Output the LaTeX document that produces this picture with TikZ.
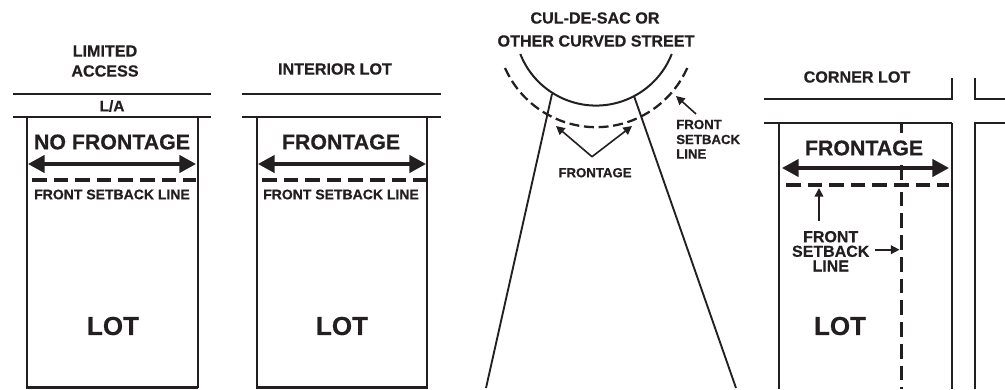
\documentclass[tikz,border=0pt]{standalone}
\usepackage{fontspec}
\setmainfont{Liberation Sans}[BoldFeatures={FakeBold=0.5}]
\usetikzlibrary{arrows.meta}
\definecolor{ink}{HTML}{231F20}
\tikzset{
  x=0.75pt,y=-0.75pt,
  big/.style={font=\fontsize{16pt}{18pt}\selectfont\bfseries,text=ink,inner sep=0pt},
  lotlabel/.style={font=\fontsize{19.5pt}{22pt}\selectfont\bfseries,text=ink,inner sep=0pt},
  title/.style={font=\fontsize{12.1pt}{14pt}\selectfont\bfseries,text=ink,inner sep=0pt},
  lalabel/.style={font=\fontsize{11.6pt}{14pt}\selectfont\bfseries,text=ink,inner sep=0pt},
  small/.style={font=\fontsize{10.5pt}{12pt}\selectfont\bfseries,text=ink,inner sep=0pt},
  tiny/.style={font=\fontsize{9.9pt}{11pt}\selectfont\bfseries,text=ink,inner sep=0pt,align=center},
  sidelabel/.style={font=\fontsize{12pt}{13pt}\selectfont\bfseries,text=ink,inner sep=0pt},
  road/.style={draw=ink,line width=1.5pt,line cap=butt},
  lotline/.style={draw=ink,line width=1.4pt},
  setback/.style={draw=ink,line width=2.3pt,dash pattern=on 11pt off 5.2pt},
  setbackthin/.style={draw=ink,line width=1.7pt,dash pattern=on 7.5pt off 3.5pt},
  sidedash/.style={draw=ink,line width=1.9pt},
  frontarrow/.style={draw=ink,line width=2.5pt,{Triangle[length=12.5pt,width=13pt,fill=ink]}-{Triangle[length=12.5pt,width=13pt,fill=ink]}},
  smallarrow/.style={draw=ink,line width=1.2pt,-{Triangle[length=6.5pt,width=6.5pt,fill=ink]}}
}
\begin{document}
\begin{tikzpicture}
\useasboundingbox (0,0) rectangle (1005,389);
\fill[white] (0,0) rectangle (1005,389);
% ---- limited access
\node[title] (t1a) at (105,51) {LIMITED};
\node[title] (t1b) at (105,71) {ACCESS};
\coordinate (r1a) at (13,94); \coordinate (r1b) at (211,94);
\coordinate (r1c) at (13,117); \coordinate (r1d) at (211,117);
\draw[road] (r1a) -- (r1b);
\draw[road] (r1c) -- (r1d);
\node[lalabel] (la) at (112,106) {L/A};
\coordinate (l1tl) at (26.7,117); \coordinate (l1tr) at (197.7,117);
\coordinate (l1bl) at (26,387.5); \coordinate (l1br) at (198.4,387.5);
\draw[lotline] (l1tl) -- (l1tl |- l1bl);
\draw[lotline] (l1tr) -- (l1tr |- l1br);
\draw[road,line width=2.4pt] (l1bl) -- (l1br);
\node[big] (nf) at (112,142) {NO FRONTAGE};
\coordinate (a1l) at (28,164); \coordinate (a1r) at (196,164);
\draw[frontarrow] (a1l) -- (a1r);
\coordinate (d1l) at (32,180); \coordinate (d1r) at (196,180);
\draw[setback] (d1l) -- (d1r);
\node[small] (s1) at (112,194.5) {FRONT SETBACK LINE};
\node[lotlabel] (lot1) at (113,326) {LOT};
% ---- interior lot
\node[title] (t2) at (335,69) {INTERIOR LOT};
\coordinate (r2a) at (242,94); \coordinate (r2b) at (441,94);
\coordinate (r2c) at (242,117); \coordinate (r2d) at (441,117);
\draw[road] (r2a) -- (r2b);
\draw[road] (r2c) -- (r2d);
\coordinate (l2tl) at (256.7,117); \coordinate (l2tr) at (427,117);
\coordinate (l2bl) at (256,387.5); \coordinate (l2br) at (427.7,387.5);
\draw[lotline] (l2tl) -- (l2tl |- l2bl);
\draw[lotline] (l2tr) -- (l2tr |- l2br);
\draw[road,line width=2.4pt] (l2bl) -- (l2br);
\node[big] (f2) at (341,142) {FRONTAGE};
\coordinate (a2l) at (258,164); \coordinate (a2r) at (426,164);
\draw[frontarrow] (a2l) -- (a2r);
\coordinate (d2l) at (262,180); \coordinate (d2r) at (426,180);
\draw[setback] (d2l) -- (d2r);
\node[small] (s2) at (341,194.5) {FRONT SETBACK LINE};
\node[lotlabel] (lot2) at (342,326) {LOT};
% ---- cul-de-sac
\node[title] (t3a) at (595,18) {CUL-DE-SAC OR};
\node[title] (t3b) at (596,41) {OTHER CURVED STREET};
\coordinate (c1) at (520.3,54);
\draw[road] (c1) arc[start angle=201.5,end angle=338.5,radius=61.05pt];
\coordinate (c2) at (505,68);
\draw[setbackthin] (c2) arc[start angle=204,end angle=336,radius=74.8pt];
\coordinate (l3a) at (552,94); \coordinate (l3b) at (486,388);
\coordinate (l3c) at (634,96); \coordinate (l3d) at (736,388);
\draw[lotline] (l3a) -- (l3b);
\draw[lotline] (l3c) -- (l3d);
\node[tiny] (f3) at (595,172.7) {FRONTAGE};
\coordinate (v) at (592,156.7);
\coordinate (v1) at (556,126); \coordinate (v2) at (632,126);
\draw[smallarrow] (v) -- (v1);
\draw[smallarrow] (v) -- (v2);
\coordinate (b1) at (696,114); \coordinate (b2) at (676,96);
\draw[smallarrow] (b1) -- (b2);
\node[tiny,anchor=west] (s3a) at (676,124.5) {FRONT};
\node[tiny,anchor=west] (s3b) at (676,139.5) {SETBACK};
\node[tiny,anchor=west] (s3c) at (676,154) {LINE};
% ---- corner lot
\node[title] (t4) at (857,77) {CORNER LOT};
\coordinate (r4a) at (764,99.3); \coordinate (r4b) at (952.3,99.3); \coordinate (r4c) at (952.3,78);
\coordinate (r4d) at (975,78); \coordinate (r4e) at (975,99.3); \coordinate (r4f) at (1005,99.3);
\draw[road,line join=miter] (r4a) -- (r4b) -- (r4c);
\draw[road,line join=miter] (r4d) -- (r4e) -- (r4f);
\coordinate (r4g) at (764,122.7); \coordinate (r4h) at (952.3,122.7); \coordinate (r4m) at (952.3,389);
\coordinate (r4i) at (975,389); \coordinate (r4j) at (975,122.7); \coordinate (r4k) at (1005,122.7);
\draw[road] (r4g) -- (r4h);
\draw[lotline] (r4h) -- (r4m);
\draw[lotline,line join=miter] (r4i) -- (r4j) -- (r4k);
\coordinate (l4a) at (779,122.7); \coordinate (l4b) at (779,389);
\draw[lotline] (l4a) -- (l4b);
\node[big] (f4) at (864,148) {FRONTAGE};
\coordinate (a4l) at (782,168); \coordinate (a4r) at (949,168);
\draw[frontarrow] (a4l) -- (a4r);
\coordinate (d4l) at (786,185); \coordinate (d4r) at (949,185);
\draw[setback] (d4l) -- (d4r);
\coordinate (v4a) at (901.5,122.7); \coordinate (v4b) at (901.5,133);
\coordinate (v4c) at (901.5,165); \coordinate (v4d) at (901.5,180);
\coordinate (v4e) at (901.5,191.7); \coordinate (v4f) at (901.5,389);
\draw[sidedash] (v4a) -- (v4b);
\draw[sidedash] (v4c) -- (v4d);
\draw[sidedash,dash pattern=on 11pt off 5.3pt] (v4e) -- (v4f);
\coordinate (u1) at (819,221); \coordinate (u2) at (819,188);
\draw[smallarrow] (u1) -- (u2);
\node[sidelabel] (s4a) at (830.7,236.7) {FRONT};
\node[sidelabel] (s4b) at (830.7,251.3) {SETBACK};
\node[sidelabel] (s4c) at (830.7,266) {LINE};
\coordinate (w1) at (875,249.7); \coordinate (w2) at (899.5,249.7);
\draw[smallarrow] (w1) -- (w2);
\node[lotlabel] (lot4) at (840,326) {LOT};
\end{tikzpicture}
\end{document}
